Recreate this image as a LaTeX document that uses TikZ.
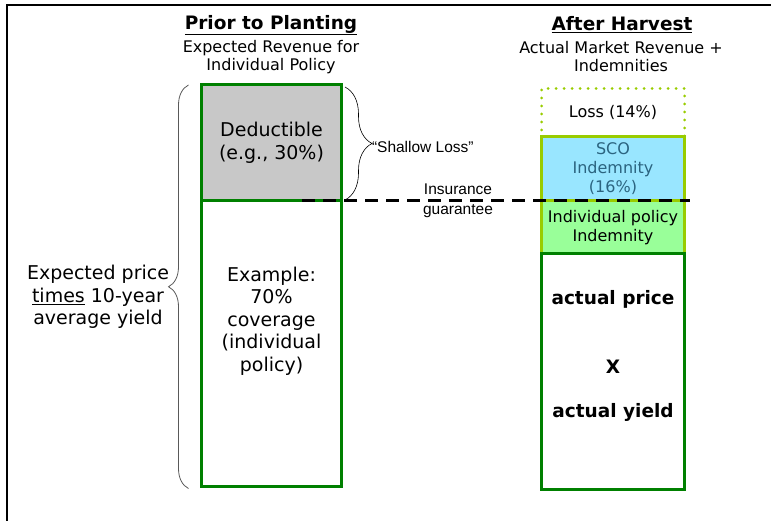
\documentclass[tikz,border=0pt]{standalone}
\usepackage{fontspec}
\setmainfont{DejaVu Sans}
\newfontfamily\arialfont{Liberation Sans}
\usetikzlibrary{positioning,calc,decorations.pathreplacing}
\definecolor{darkgreen}{HTML}{008000}
\definecolor{limegreen}{HTML}{99CC00}
\definecolor{scoblue}{HTML}{99E6FF}
\definecolor{indivgreen}{HTML}{99FF99}
\definecolor{deductgrey}{HTML}{C8C8C8}
\definecolor{scotext}{HTML}{2B6480}

\begin{document}
\begin{tikzpicture}[
    x=1pt, y=-1pt,
    every node/.style={inner sep=0pt, outer sep=0pt, align=center},
    title/.style={font=\fontsize{18.5}{22}\selectfont\bfseries},
    subtitle/.style={font=\fontsize{16}{18}\selectfont},
    bigtext/.style={font=\fontsize{19}{22.5}\selectfont},
    smalltext/.style={font=\fontsize{16}{19}\selectfont},
    boldtext/.style={font=\fontsize{18.5}{22}\selectfont\bfseries},
    arialtext/.style={font=\arialfont\fontsize{15.5}{20}\selectfont},
    leftbox/.style={draw=darkgreen, line width=3pt, minimum width=140pt},
    rightbox/.style={line width=3pt, minimum width=143pt},
  ]
  \useasboundingbox (0,0) rectangle (771,521);
  \draw[line width=2.5pt] (7,521) -- (7,5) -- (771,5);

  % prior to planting
  \node[title] (prior) at (271,25) {\underline{Prior to Planting}};
  \node[subtitle] (priorsub) at (271,57) {Expected Revenue for\\Individual Policy};
  \node[leftbox, fill=deductgrey, minimum height=116pt, bigtext] (deduct) at (271.5,143) {Deductible\\(e.g., 30\%)};
  \node[leftbox, minimum height=285.5pt, below=0pt of deduct] (cover) {};
  \node[bigtext] (covertext) at (271.5,321) {Example:\\70\%\\coverage\\(individual\\policy)};

  % braces
  \draw[black!65, line width=0.8pt, decorate, decoration={brace, amplitude=20pt}]
    ($(cover.south west)+(-13,2)$) -- ($(deduct.north west)+(-13,0)$);
  \node[bigtext] (expected) at (98,297) {Expected price\\\underline{times} 10-year\\average yield};
  \draw[line width=0.6pt, decorate, decoration={brace, amplitude=27pt}]
    ($(deduct.north east)+(3.5,2)$) -- ($(deduct.south east)+(3.5,-1)$);
  \node[arialtext, anchor=west] (shallow) at (372,147) {“Shallow Loss”};

  % after harvest
  \node[title] (after) at (622,25) {\underline{After Harvest}};
  \node[subtitle] (aftersub) at (621,57) {Actual Market Revenue +\\Indemnities};
  \node[rightbox, draw=limegreen, dash pattern=on 0pt off 8pt, line cap=round, minimum height=48.5pt, smalltext] (loss) at (613,112.75) {Loss (14\%)};
  \node[rightbox, draw=limegreen, fill=scoblue, minimum height=64pt, below=0pt of loss, smalltext, text=scotext] (sco) {SCO\\Indemnity\\(16\%)};
  \node[rightbox, draw=limegreen, fill=indivgreen, minimum height=53pt, below=0pt of sco, smalltext] (indiv) {Individual policy\\Indemnity};
  \node[rightbox, draw=darkgreen, minimum height=235pt, below=0pt of indiv] (actual) {};
  \node[boldtext] (aprice) at (613,299) {actual price};
  \node[boldtext] (times) at (613,367) {X};
  \node[boldtext] (ayield) at (613,412) {actual yield};

  % insurance guarantee
  \coordinate (guarL) at (302,201);
  \coordinate (guarR) at (690,201);
  \draw[line width=3pt, dash pattern=on 13pt off 8pt] (guarL) -- (guarR);
  \node[arialtext] (guarantee) at (458,201) {Insurance\\guarantee};
\end{tikzpicture}
\end{document}
